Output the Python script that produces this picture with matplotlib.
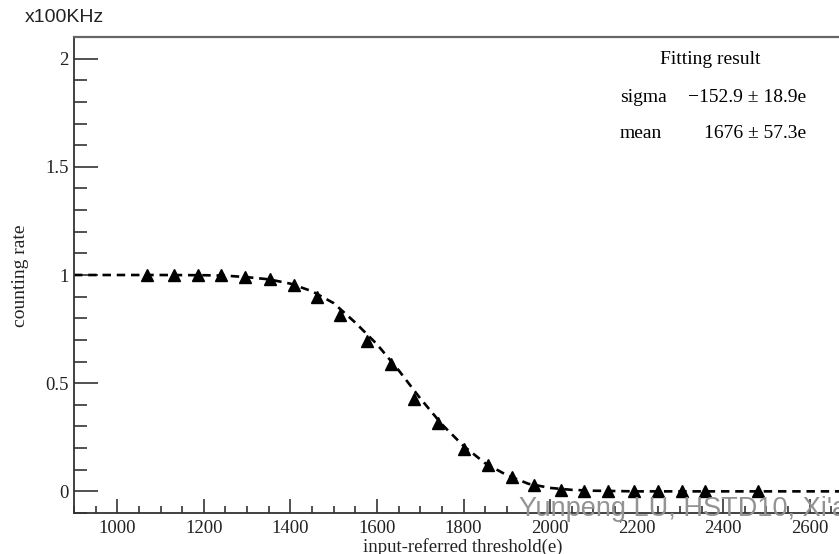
import matplotlib
matplotlib.use("Agg")
import matplotlib.pyplot as plt
from matplotlib.ticker import MultipleLocator

# measured points (threshold in e, rate in x100KHz)
thr = [1069, 1131, 1187, 1240, 1295, 1353, 1408, 1462, 1515, 1578, 1633, 1686,
       1740, 1801, 1857, 1911, 1963, 2025, 2078, 2135, 2193, 2250, 2306, 2359, 2481]
rate = [1.0, 1.0, 1.0, 1.0, 0.99, 0.98, 0.955, 0.90, 0.815, 0.695, 0.59, 0.425,
        0.315, 0.195, 0.12, 0.065, 0.028, 0.006, 0.002, 0.0, 0.0, 0.0, 0.0, 0.0, 0.0]

# fit curve
fit_x = [900, 1000, 1100, 1200, 1250, 1300, 1350, 1400, 1450, 1500, 1550, 1600,
         1650, 1700, 1750, 1800, 1850, 1900, 1950, 2000, 2050, 2100, 2200, 2300, 2700]
fit_y = [1.0, 1.0, 1.0, 0.999, 0.997, 0.99, 0.98, 0.96, 0.925, 0.87, 0.78, 0.68,
         0.56, 0.43, 0.31, 0.21, 0.13, 0.075, 0.035, 0.016, 0.007, 0.003, 0.0, 0.0, 0.0]

serif = ["Liberation Serif", "DejaVu Serif"]
sans = ["Liberation Sans", "DejaVu Sans"]

fig = plt.figure(figsize=(8.39, 5.54), dpi=100)
ax = fig.add_axes([74 / 839, 41 / 554, 779 / 839, 476 / 554])

ax.plot(fit_x, fit_y, color="black", lw=1.9, ls=(0, (3.2, 2.2)), zorder=2)
ax.plot(thr, rate, ls="none", marker="^", ms=8.5, color="black", zorder=3)

ax.set_xlim(900, 2700)
ax.set_ylim(-0.1, 2.1)

ax.xaxis.set_major_locator(MultipleLocator(200))
ax.xaxis.set_minor_locator(MultipleLocator(50))
ax.yaxis.set_major_locator(MultipleLocator(0.5))
ax.yaxis.set_minor_locator(MultipleLocator(0.1))
ax.tick_params(which="both", direction="in", top=False, right=False, color="#222222")
ax.tick_params(axis="x", which="major", length=10, width=1.1)
ax.tick_params(axis="x", which="minor", length=5, width=1.1)
ax.tick_params(axis="y", which="major", length=17, width=1.1)
ax.tick_params(axis="y", which="minor", length=9, width=1.1)
ax.yaxis.set_major_formatter(matplotlib.ticker.FuncFormatter(lambda v, p: "%g" % v))

for lab in ax.get_xticklabels() + ax.get_yticklabels():
    lab.set_family(serif)
    lab.set_fontsize(13.5)
    lab.set_color("#222222")
ax.tick_params(axis="x", pad=5)
ax.tick_params(axis="y", pad=4)

for s in ["left", "bottom"]:
    ax.spines[s].set_color("#333333")
    ax.spines[s].set_linewidth(1.3)
ax.spines["top"].set_color("#666666")
ax.spines["top"].set_linewidth(1.6)
ax.spines["right"].set_visible(False)

fig.text(25 / 839, 1 - 18 / 554, "x100KHz", family=sans, fontsize=14, va="center",
         color="#222222")
fig.text(21 / 839, 1 - 276 / 554, "counting rate", family=serif, fontsize=14,
         rotation=90, va="center", ha="center", color="#222222")
fig.text(463 / 839, 1 - 547 / 554, "input-referred threshold(e)", family=serif,
         fontsize=13.5, ha="center", va="center", color="#222222")

# fitting result box text
fig.text(710 / 839, 1 - 60 / 554, "Fitting result", family=serif, fontsize=14,
         ha="center", va="center")
fig.text(620 / 839, 1 - 98 / 554, "sigma", family=serif, fontsize=14, va="center")
fig.text(806 / 839, 1 - 98 / 554, "\u2212152.9 \u00b1 18.9e", family=serif,
         fontsize=14, va="center", ha="right")
fig.text(620 / 839, 1 - 133 / 554, "mean", family=serif, fontsize=14, va="center")
fig.text(806 / 839, 1 - 133 / 554, "1676 \u00b1 57.3e", family=serif,
         fontsize=14, va="center", ha="right")

# watermark
fig.text(519 / 839, 1 - 516 / 554, "Yunpeng LU, HSTD10, Xi'an", family=sans,
         fontsize=19.5, color="#939393", va="baseline", ha="left")

fig.savefig("out.png", dpi=100)
